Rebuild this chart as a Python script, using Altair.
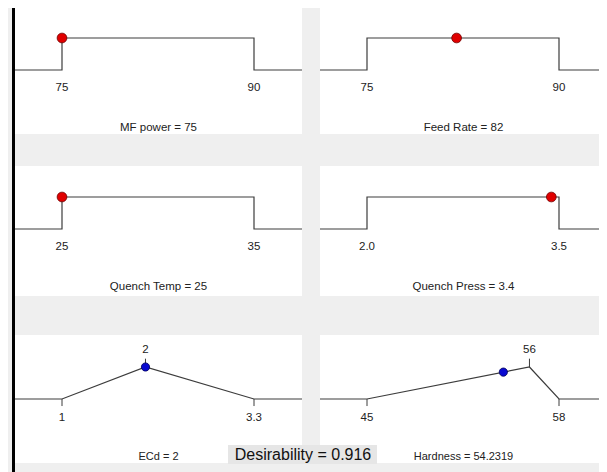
import altair as alt
import pandas as pd

# ---- data ----
names = ["MF power", "Feed Rate", "Quench Temp", "Quench Press", "ECd", "Hardness"]
lows = [75, 75, 25, 2.0, 1, 45]
highs = [90, 90, 35, 3.5, 3.3, 58]
targets = [None, None, None, None, 2, 56]
settings = [75, 82, 25, 3.44, 2, 54.2319]
setting_d = [1, 1, 1, 1, 1, 0.84]
setting_labels = ["75", "82", "25", "3.4", "2", "54.2319"]
tick_labels = [["75", "90"], ["75", "90"], ["25", "35"], ["2.0", "3.5"], ["1", "3.3"], ["45", "58"]]
target_labels = [None, None, None, None, "2", "56"]
desirability = 0.916

# ---- styling / layout ----
COL_W = [287, 279]          # left / right panel widths (right one runs to the window edge)
ROW_H = [126, 130, 135]
ROW_PX0 = [62, 63, 71]      # pixel of desirability 0 inside each row's panel
LO_PX, RANGE_PX = 47, 192   # where the low limit sits and how wide the limit range is
TITLE_X = 143.5
GAP_X, GAP_Y = 18, 32
FONT = "Liberation Sans"
BG = "#efefef"
LINE = "#3c3c3c"
TXT = "#222222"
ONE = pd.DataFrame({"k": [0]})


def deco_rect(x, x2, y, y2, color):
    return alt.Chart(ONE).mark_rect(color=color).encode(
        x=alt.value(x), x2=alt.value(x2), y=alt.value(y), y2=alt.value(y2)
    )


def panel(i, row, col, extra_before=None, extra_after=None):
    W, H, px0 = COL_W[col], ROW_H[row], ROW_PX0[row]
    lo, hi = lows[i], highs[i]
    r = hi - lo
    dom = [lo - LO_PX / RANGE_PX * r, lo + (W - LO_PX) / RANGE_PX * r]
    t = targets[i]
    if t is None:
        xs = [dom[0], lo, lo, hi, hi, dom[1]]
        ds = [0, 0, 1, 1, 0, 0]
    else:
        xs = [dom[0], lo, t, hi, dom[1]]
        ds = [0, 0, 1, 0, 0]
    line_df = pd.DataFrame({"x": xs, "d": ds, "o": list(range(len(xs)))})
    xsc = alt.Scale(domain=dom, nice=False, zero=False)
    ysc = alt.Scale(domain=[(px0 - H) / 32, px0 / 32], nice=False, zero=False)

    def X(f="x"):
        return alt.X(f, type="quantitative", scale=xsc, axis=None)

    def Y(f="d"):
        return alt.Y(f, type="quantitative", scale=ysc, axis=None)

    layers = list(extra_before or [])
    layers.append(
        alt.Chart(line_df).mark_line(color=LINE, strokeWidth=1.2, clip=True).encode(
            x=X(), y=Y(), order="o:Q"
        )
    )
    lab_df = pd.DataFrame({"x": [lo, hi], "d": [0, 0], "t": tick_labels[i]})
    layers.append(
        alt.Chart(lab_df).mark_text(
            dy=18 if t is None else 19, fontSize=11.5, font=FONT, color=TXT, baseline="middle"
        ).encode(x=X(), y=Y(), text="t:N")
    )
    if t is not None:
        tick_df = pd.DataFrame({"x": [lo, hi, t], "d": [0, 0, 1], "d2": [-0.22, -0.22, 1.26]})
        layers.append(
            alt.Chart(tick_df).mark_rule(color=LINE, strokeWidth=1).encode(
                x=X(), y=Y(), y2="d2:Q"
            )
        )
        tl_df = pd.DataFrame({"x": [t], "d": [1], "t": [target_labels[i]]})
        layers.append(
            alt.Chart(tl_df).mark_text(
                dy=-17, fontSize=11.5, font=FONT, color=TXT, baseline="middle"
            ).encode(x=X(), y=Y(), text="t:N")
        )
    pt_df = pd.DataFrame({"x": [settings[i]], "d": [setting_d[i]]})
    if t is None:
        pt = alt.Chart(pt_df).mark_circle(
            size=95, color="#e00000", stroke="#700000", strokeWidth=0.8, opacity=1
        )
    else:
        pt = alt.Chart(pt_df).mark_circle(
            size=68, color="#0a0ad0", stroke="#00005a", strokeWidth=0.8, opacity=1
        )
    layers.append(pt.encode(x=X(), y=Y()))
    ttl_df = pd.DataFrame({"t": [f"{names[i]} = {setting_labels[i]}"]})
    layers.append(
        alt.Chart(ttl_df).mark_text(
            fontSize=11.5 if t is None else 11, font=FONT, color=TXT, align="center", baseline="middle"
        ).encode(x=alt.value(TITLE_X), y=alt.value(px0 + 58), text="t:N")
    )
    layers.extend(extra_after or [])
    return alt.layer(*layers).properties(width=W, height=H)


# screenshot frame: black edge on the left
left_edges = [
    [deco_rect(-3, 0, 0, ROW_H[0] + GAP_Y, "black")],
    [deco_rect(-3, 0, 0, ROW_H[1] + GAP_Y, "black")],
    [deco_rect(-3, 0, 0, ROW_H[2] + 9, "black")],
]
# bottom-row panels start a few pixels lower in the reference
row3_top = [[deco_rect(0, w, 0, 7, BG)] for w in COL_W]

des_df = pd.DataFrame({"t": [f"Desirability = {desirability:.3f}"]})
des_box = alt.Chart(des_df).mark_rect(color="#e6e6e6").encode(
    x=alt.value(-92), x2=alt.value(57), y=alt.value(117), y2=alt.value(ROW_H[2] + 1)
)
des_txt = alt.Chart(des_df).mark_text(
    fontSize=16, font=FONT, color="#111111", align="center", baseline="middle"
).encode(x=alt.value(-17), y=alt.value(127), text="t:N")

panels = [
    panel(0, 0, 0, extra_after=left_edges[0]),
    panel(1, 0, 1),
    panel(2, 1, 0, extra_after=left_edges[1]),
    panel(3, 1, 1),
    panel(4, 2, 0, extra_before=row3_top[0], extra_after=left_edges[2]),
    panel(5, 2, 1, extra_before=row3_top[1], extra_after=[des_box, des_txt]),
]

chart = (
    alt.concat(*panels, columns=2, spacing={"row": GAP_Y, "column": GAP_X}, bounds="flush")
    .properties(background=BG, padding={"left": 4, "top": 0, "right": 0, "bottom": 0})
    .configure_view(fill="white", stroke=None)
)

chart.save("out.html", embed_options={"renderer": "svg", "actions": False})
